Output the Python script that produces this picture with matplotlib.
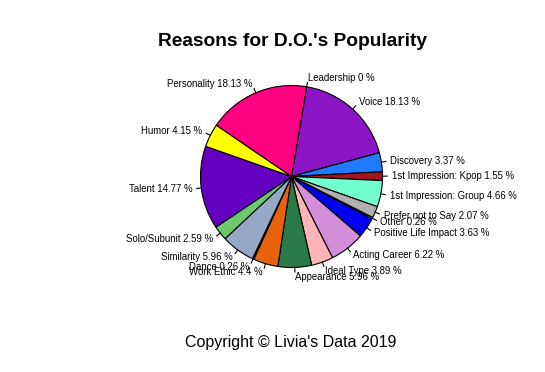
"""
Pie chart: Reasons for D.O.'s Popularity (survey, Livia's Data 2019).
Saved as out.png, 545x372 px.
"""

import matplotlib
matplotlib.use("Agg")
import matplotlib.pyplot as plt
import numpy as np

plt.rcParams["font.family"] = ["Liberation Sans", "DejaVu Sans"]

reasons = [
    "Leadership", "Voice", "Discovery", "1st Impression: Kpop",
    "1st Impression: Group", "Prefer not to Say", "Other",
    "Positive Life Impact", "Acting Career", "Ideal Type", "Appearance",
    "Work Ethic", "Dance", "Similarity", "Solo/Subunit", "Talent",
    "Humor", "Personality",
]
percents = [
    0, 18.13, 3.37, 1.55, 4.66, 2.07, 0.26, 3.63, 6.22, 3.89, 5.96,
    4.4, 0.26, 5.96, 2.59, 14.77, 4.15, 18.13,
]
slice_colors = [
    "#888888", "#8B14C4", "#1F7BFF", "#A3141F", "#72FFD0", "#B0B0B0",
    "#C8C800", "#0000F0", "#D28ED8", "#FFB4B8", "#287A48", "#E8620A",
    "#303030", "#96A8C8", "#6CC86C", "#6400C0", "#FFFF00", "#FF0080",
]

W, H = 545, 372
CX, CY, R = 291.5, H - 176.5, 91.0

fig = plt.figure(figsize=(W / 100, H / 100), dpi=100, facecolor="white")
ax = fig.add_axes([0, 0, 1, 1])

wedges, _ = ax.pie(
    percents, colors=slice_colors, startangle=80.4, counterclock=False,
    center=(CX, CY), radius=R, normalize=True,
    wedgeprops=dict(edgecolor="black", linewidth=0.8),
)
ax.set_xlim(0, W)
ax.set_ylim(0, H)
ax.set_aspect("equal")
ax.axis("off")

# R-style labels: short tick from the rim, text just beyond it
for w, name, pct in zip(wedges, reasons, percents):
    mid = np.deg2rad((w.theta1 + w.theta2) / 2)
    c, s = np.cos(mid), np.sin(mid)
    ax.plot([CX + R * c, CX + 1.05 * R * c], [CY + R * s, CY + 1.05 * R * s],
            color="black", lw=0.8)
    label = f"{name} {pct:g} %"
    ax.text(CX + 1.1 * R * c, CY + 1.1 * R * s, label,
            ha="left" if c >= 0 else "right", va="center",
            fontsize=6.9, color="black")

ax.text(292, H - 42, "Reasons for D.O.'s Popularity", ha="center", va="center",
        fontsize=13.8, fontweight="bold")
ax.text(291, H - 342, "Copyright \u00a9 Livia's Data 2019", ha="center", va="center",
        fontsize=11.5)

fig.savefig("out.png", dpi=100, facecolor="white")
